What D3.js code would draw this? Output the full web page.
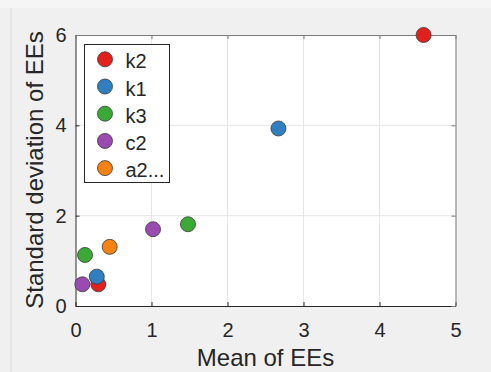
<!DOCTYPE html>
<html>
<head>
<meta charset="utf-8">
<script src="https://cdn.jsdelivr.net/npm/d3@7"></script>
<style>
  html, body { margin: 0; padding: 0; background: #f0f0f0; }
  svg { display: block; }
  text { font-family: "Liberation Sans", Arial, sans-serif; fill: #262626; }
</style>
</head>
<body>
<svg id="chart" width="491" height="372"></svg>
<script>
// Series names and colours (legend order)
const seriesNames = ["k2", "k1", "k3", "c2", "a2..."];
const seriesColors = ["#e3201b", "#2f7fc1", "#3aa935", "#9a4ab0", "#f7820f"];
// Mean of EEs per series
const meanK2 = [4.58, 0.30];
const meanK1 = [2.67, 0.28];
const meanK3 = [1.48, 0.125];
const meanC2 = [1.02, 0.09];
const meanA2 = [0.45];
// Standard deviation of EEs per series
const sdK2 = [6.0, 0.48];
const sdK1 = [3.93, 0.65];
const sdK3 = [1.81, 1.13];
const sdC2 = [1.70, 0.48];
const sdA2 = [1.31];
// Axis ticks
const xTicks = [0, 1, 2, 3, 4, 5];
const yTicks = [0, 2, 4, 6];

const means = [meanK2, meanK1, meanK3, meanC2, meanA2];
const sds = [sdK2, sdK1, sdK3, sdC2, sdA2];
const series = seriesNames.map((name, i) => ({
  name, color: seriesColors[i],
  points: means[i].map((m, j) => ({ x: m, y: sds[i][j] }))
}));

const svg = d3.select("#chart");
const pLeft = 75.5, pRight = 455.5, pTop = 35, pBottom = 306;
const x = d3.scaleLinear().domain([0, 5]).range([pLeft, pRight]);
const y = d3.scaleLinear().domain([0, 6]).range([pBottom, pTop]);

// outer frame line
svg.append("line").attr("x1", 11).attr("x2", 11).attr("y1", 8).attr("y2", 372)
  .attr("stroke", "#dadada").attr("stroke-width", 1);
svg.append("rect").attr("x", 0).attr("y", 0).attr("width", 491).attr("height", 8)
  .attr("fill", "#f5f5f5");

// plot area
svg.append("rect").attr("x", pLeft).attr("y", pTop)
  .attr("width", pRight - pLeft).attr("height", pBottom - pTop).attr("fill", "#ffffff");

// grid
svg.append("g").selectAll("line").data(xTicks.slice(1, -1)).join("line")
  .attr("x1", d => x(d)).attr("x2", d => x(d)).attr("y1", pTop).attr("y2", pBottom)
  .attr("stroke", "#e6e6e6").attr("stroke-width", 1);
svg.append("g").selectAll("line").data(yTicks.slice(1, -1)).join("line")
  .attr("x1", pLeft).attr("x2", pRight).attr("y1", d => y(d)).attr("y2", d => y(d))
  .attr("stroke", "#e6e6e6").attr("stroke-width", 1);

// axes
const fmt = d3.format("d");
const xAxis = d3.axisBottom(x).tickValues(xTicks).tickFormat(fmt).tickSizeInner(-4).tickSizeOuter(0).tickPadding(17);
const yAxis = d3.axisLeft(y).tickValues(yTicks).tickFormat(fmt).tickSizeInner(-4).tickSizeOuter(0).tickPadding(9);
const xTop = d3.axisTop(x).tickValues(xTicks).tickFormat("").tickSizeInner(-4).tickSizeOuter(0);
const yRight = d3.axisRight(y).tickValues(yTicks).tickFormat("").tickSizeInner(-4).tickSizeOuter(0);
const gx = svg.append("g").attr("transform", `translate(0,${pBottom})`).call(xAxis);
const gy = svg.append("g").attr("transform", `translate(${pLeft},0)`).call(yAxis);
const gt = svg.append("g").attr("transform", `translate(0,${pTop})`).call(xTop);
const gr = svg.append("g").attr("transform", `translate(${pRight},0)`).call(yRight);
[gx, gy].forEach(g => {
  g.select(".domain").attr("stroke", "#262626");
  g.selectAll(".tick line").attr("stroke", "#262626");
  g.selectAll(".tick text").attr("font-size", 20).attr("fill", "#262626")
    .style("font-family", "'Liberation Sans', Arial, sans-serif");
});
[gt, gr].forEach(g => {
  g.select(".domain").attr("stroke", "#7a7a7a");
  g.selectAll(".tick line").attr("stroke", "#7a7a7a");
});

// axis titles
svg.append("text").attr("x", (pLeft + pRight) / 2).attr("y", 366)
  .attr("text-anchor", "middle").attr("font-size", 24).text("Mean of EEs");
svg.append("text").attr("transform", `translate(43,170) rotate(-90)`)
  .attr("text-anchor", "middle").attr("font-size", 24).text("Standard deviation of EEs");

// markers
const pts = svg.append("g");
series.forEach(s => {
  pts.selectAll(null).data(s.points).join("circle")
    .attr("cx", d => x(d.x)).attr("cy", d => y(d.y)).attr("r", 7.5)
    .attr("fill", s.color).attr("stroke", "#3a3a3a").attr("stroke-width", 0.8);
});

// legend
const lg = svg.append("g");
lg.append("rect").attr("x", 84.5).attr("y", 44.5).attr("width", 85).attr("height", 138)
  .attr("fill", "#ffffff").attr("stroke", "#262626").attr("stroke-width", 1);
series.forEach((s, i) => {
  const cy = 59.3 + i * 27.2;
  lg.append("circle").attr("cx", 105).attr("cy", cy).attr("r", 7.5)
    .attr("fill", s.color).attr("stroke", "#3a3a3a").attr("stroke-width", 0.8);
  lg.append("text").attr("x", 125.5).attr("y", cy + 9).attr("font-size", 20).text(s.name);
});
</script>
</body>
</html>
